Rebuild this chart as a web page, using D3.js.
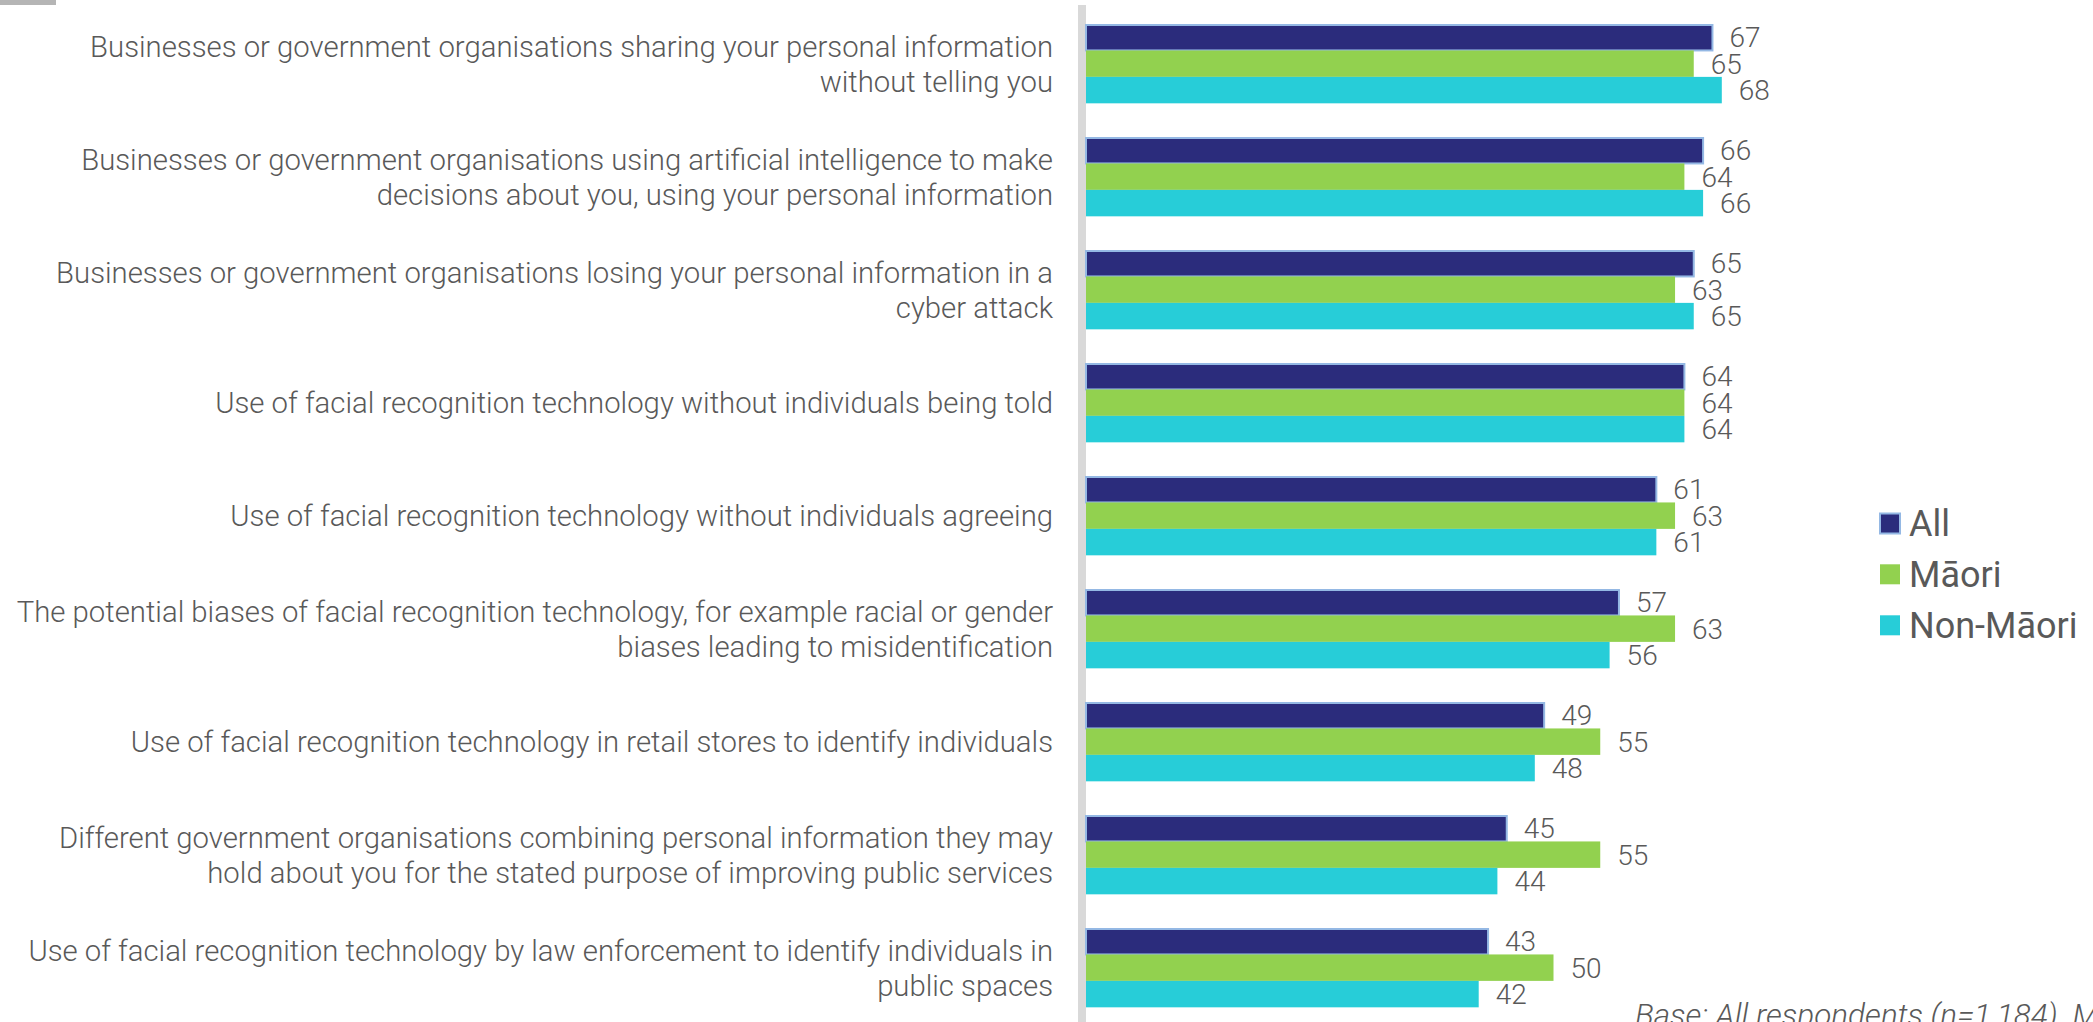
<!DOCTYPE html>
<html>
<head>
<meta charset="utf-8">
<script src="https://cdn.jsdelivr.net/npm/d3@7"></script>
<style>
  html, body { margin: 0; padding: 0; background: #ffffff; overflow: hidden; }
  svg { display: block; }
</style>
</head>
<body>
<svg id="chart" width="2093" height="1022"></svg>
<script>
// ---- Data ----
const categories = [
  ["Businesses or government organisations sharing your personal information", "without telling you"],
  ["Businesses or government organisations using artificial intelligence to make", "decisions about you, using your personal information"],
  ["Businesses or government organisations losing your personal information in a", "cyber attack"],
  ["Use of facial recognition technology without individuals being told"],
  ["Use of facial recognition technology without individuals agreeing"],
  ["The potential biases of facial recognition technology, for example racial or gender", "biases leading to misidentification"],
  ["Use of facial recognition technology in retail stores to identify individuals"],
  ["Different government organisations combining personal information they may", "hold about you for the stated purpose of improving public services"],
  ["Use of facial recognition technology by law enforcement to identify individuals in", "public spaces"]
];
const seriesNames = ["All", "Māori", "Non-Māori"];
const allValues      = [67, 66, 65, 64, 61, 57, 49, 45, 43];
const maoriValues    = [65, 64, 63, 64, 63, 63, 55, 55, 50];
const nonMaoriValues = [68, 66, 65, 64, 61, 56, 48, 44, 42];
const seriesValues = [allValues, maoriValues, nonMaoriValues];
const footnote = "Base: All respondents (n=1,184). M";

// ---- Styles ----
const colors = ["#2b2c7c", "#92d14f", "#27cdd8"];
const strokes = ["#94b8e4", "none", "none"];
const textColor = "#595959";
const fontLight = "'Roboto Light', Roboto, sans-serif";

const svg = d3.select("#chart");
const W = 2093, H = 1022;

// top-left grey tab
svg.append("rect").attr("x", 0).attr("y", 0).attr("width", 56).attr("height", 5).attr("fill", "#b5b5b5");

const x0 = 1086;
const x = d3.scaleLinear().domain([0, 100]).range([x0, x0 + 935]);

const step = 113, plotTop = 24;
const pI = 0.298;
const idx = d3.range(categories.length);
const y = d3.scaleBand().domain(idx)
  .range([plotTop - step * pI / 2, plotTop - step * pI / 2 + step * categories.length])
  .paddingInner(pI).paddingOuter(pI / 2);
const ySub = d3.scaleBand().domain(d3.range(seriesNames.length)).range([0, y.bandwidth()]);

// axis line
svg.append("rect").attr("x", x0 - 8).attr("y", 5).attr("width", 8).attr("height", H - 5).attr("fill", "#d9d9d9");

// bars
const groups = svg.selectAll("g.grp").data(idx).join("g").attr("class", "grp")
  .attr("transform", i => `translate(0,${y(i)})`);

groups.each(function(i) {
  const g = d3.select(this);
  seriesNames.forEach((s, k) => {
    const v = seriesValues[k][i];
    g.append("rect")
      .attr("x", x(0))
      .attr("y", ySub(k) + (k === 0 ? 1 : 0))
      .attr("width", x(v) - x(0))
      .attr("height", ySub.bandwidth() - (k === 0 ? 1 : 0))
      .attr("fill", colors[k])
      .attr("stroke", strokes[k])
      .attr("stroke-width", k === 0 ? 2 : 0);
    g.append("text")
      .attr("x", x(v) + 17)
      .attr("y", ySub(k) + ySub.bandwidth() / 2)
      .attr("dy", "0.36em")
      .attr("font-family", fontLight)
      .attr("font-weight", 300)
      .attr("font-size", 28)
      .attr("fill", textColor)
      .text(v);
  });
});

// category labels
const lineH = 34.7;
svg.selectAll("text.cat").data(idx).join("text").attr("class", "cat")
  .attr("text-anchor", "end")
  .attr("font-family", fontLight)
  .attr("font-weight", 300)
  .attr("font-size", 29.3)
  .attr("fill", textColor)
  .each(function(i) {
    const lines = categories[i];
    const cy = y(i) + y.bandwidth() / 2;
    const startY = cy - (lines.length - 1) * lineH / 2;
    d3.select(this).selectAll("tspan").data(lines).join("tspan")
      .attr("x", 1053)
      .attr("y", (d, j) => startY + j * lineH)
      .attr("dy", "0.36em")
      .text(d => d);
  });

// legend
const legY = [523.5, 574.3, 625.3];
const leg = svg.selectAll("g.leg").data(seriesNames).join("g").attr("class", "leg")
  .attr("transform", (d, k) => `translate(1880,${legY[k]})`);
leg.append("rect").attr("x", 0).attr("y", -10).attr("width", 20).attr("height", 20)
  .attr("fill", (d, k) => colors[k])
  .attr("stroke", (d, k) => strokes[k])
  .attr("stroke-width", (d, k) => k === 0 ? 2 : 0);
leg.append("text").attr("x", 29).attr("y", 0).attr("dy", "0.36em")
  .attr("font-family", "Roboto, sans-serif")
  .attr("font-size", 36)
  .attr("fill", textColor)
  .text(d => d);

// footnote (cut off at the bottom/right edge as in the source)
svg.append("text").attr("x", 1635).attr("y", 1026)
  .attr("font-family", fontLight)
  .attr("font-weight", 300)
  .attr("font-style", "italic")
  .attr("font-size", 31.5)
  .attr("fill", textColor)
  .text(footnote);
</script>
</body>
</html>
